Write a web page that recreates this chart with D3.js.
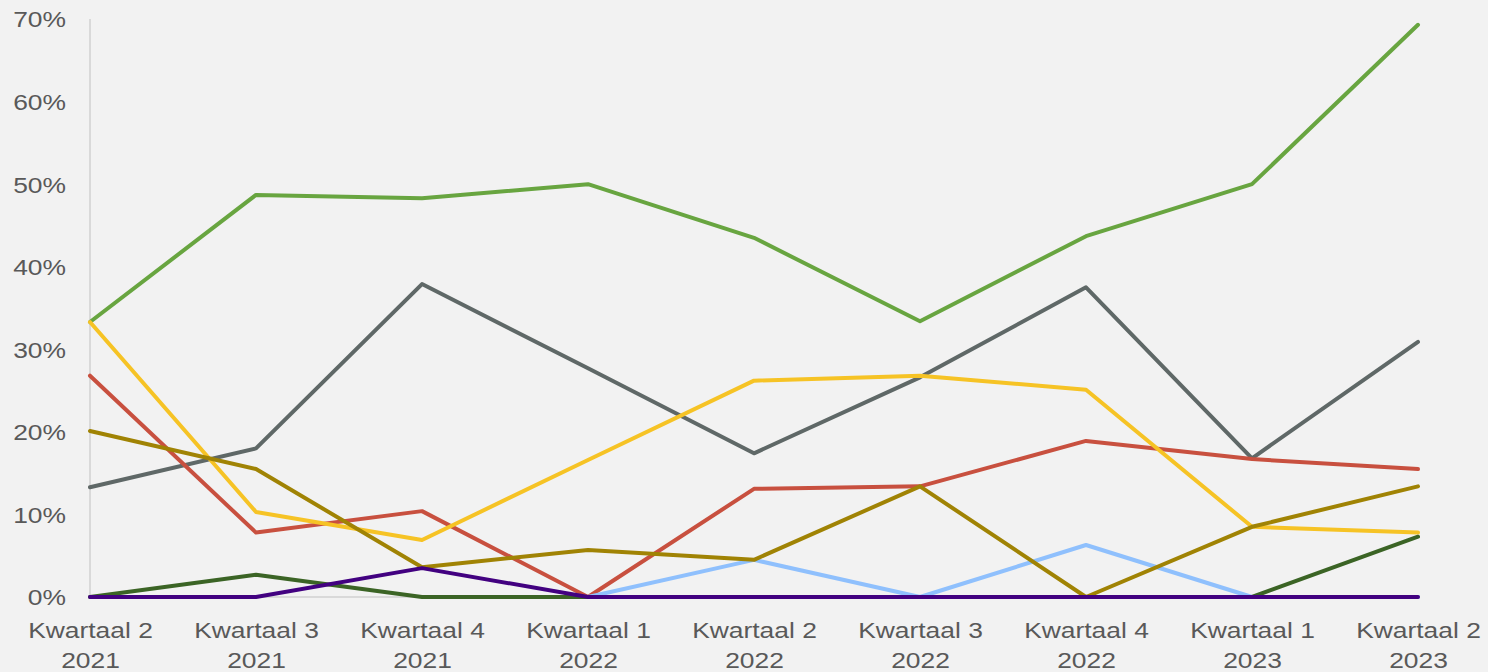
<!DOCTYPE html>
<html>
<head>
  <style>
    html, body { margin: 0; padding: 0; background: #f2f2f2; }
    svg text { font-family: "Liberation Sans", Arial, sans-serif; fill: #595959; }
  </style>
</head>
<body>
  <svg id="chart" width="1488" height="672"></svg>
  <script src="https://d3js.org/d3.v7.min.js"></script>
  <script>
    // Quarters (two-line labels)
    const quarters = ["Kwartaal 2|2021", "Kwartaal 3|2021", "Kwartaal 4|2021", "Kwartaal 1|2022",
      "Kwartaal 2|2022", "Kwartaal 3|2022", "Kwartaal 4|2022", "Kwartaal 1|2023", "Kwartaal 2|2023"];
    const yTicks = [0, 0.1, 0.2, 0.3, 0.4, 0.5, 0.6, 0.7];

    // series values (fractions); null = no value
    const greenVals = [0.333, 0.487, 0.483, 0.500, 0.435, 0.334, 0.437, 0.500, 0.693];
    const grayVals = [0.133, 0.180, 0.379, 0.277, 0.174, 0.266, 0.375, 0.168, 0.309];
    const redVals = [0.268, 0.078, 0.104, 0.000, 0.131, 0.134, 0.189, 0.167, 0.155];
    const yellowVals = [0.333, 0.103, 0.069, 0.166, 0.262, 0.268, 0.251, 0.085, 0.078];
    const lightBlueVals = [null, null, null, 0, 0.045, 0, 0.063, 0, 0];
    const goldVals = [0.201, 0.155, 0.036, 0.057, 0.045, 0.134, 0.000, 0.085, 0.134];
    const darkGreenVals = [0, 0.027, 0, 0, 0, 0, 0, 0, 0.073];
    const purpleVals = [0, 0, 0.035, 0, 0, 0, 0, 0, 0];

    const series = [
      { values: greenVals, color: "#68a540" },
      { values: grayVals, color: "#5f6867" },
      { values: redVals, color: "#c8503f" },
      { values: yellowVals, color: "#f6c325" },
      { values: lightBlueVals, color: "#8fc0fd" },
      { values: goldVals, color: "#a08304" },
      { values: darkGreenVals, color: "#3b6425" },
      { values: purpleVals, color: "#420180" }
    ];

    const svg = d3.select("#chart");

    const x = d3.scalePoint()
      .domain(quarters)
      .range([90, 1418]);

    const y = d3.scaleLinear()
      .domain([0, 0.7])
      .range([597, 19]);

    // vertical axis line
    svg.append("line")
      .attr("x1", 90).attr("x2", 90)
      .attr("y1", y(0.7)).attr("y2", y(0))
      .attr("stroke", "#d9d9d9")
      .attr("stroke-width", 2);

    // horizontal base line
    svg.append("line")
      .attr("x1", 90).attr("x2", 1418)
      .attr("y1", y(0)).attr("y2", y(0))
      .attr("stroke", "#d9d9d9")
      .attr("stroke-width", 2);

    // y axis labels
    const yAxis = d3.axisLeft(y)
      .tickValues(yTicks)
      .tickFormat(d3.format(".0%"))
      .tickSize(0)
      .tickPadding(0);

    const yg = svg.append("g")
      .attr("transform", "translate(66,0)")
      .call(yAxis);
    yg.select(".domain").remove();
    yg.selectAll("text")
      .attr("x", 0)
      .attr("dy", "0.36em")
      .attr("transform", "scale(1.2,1)")
      .style("font-size", "22px")
      .style("font-family", "'Liberation Sans', Arial, sans-serif")
      .attr("fill", "#595959");

    // x axis labels
    const xAxis = d3.axisBottom(x).tickSize(0).tickFormat("");
    const xg = svg.append("g")
      .attr("transform", `translate(0,${y(0)})`)
      .call(xAxis);
    xg.select(".domain").remove();
    xg.selectAll(".tick").each(function(d) {
      const parts = d.split("|");
      const t = d3.select(this).append("text")
        .attr("text-anchor", "middle")
        .attr("transform", "scale(1.2,1)")
        .style("font-size", "22px")
        .attr("fill", "#595959");
      t.append("tspan").attr("x", 0).attr("y", 41).text(parts[0]);
      t.append("tspan").attr("x", 0).attr("y", 71).text(parts[1]);
    });

    // lines
    const line = d3.line()
      .defined(d => d !== null)
      .x((d, i) => x(quarters[i]))
      .y(d => y(d));

    svg.append("g")
      .selectAll("path")
      .data(series)
      .enter()
      .append("path")
      .attr("d", d => line(d.values))
      .attr("fill", "none")
      .attr("stroke", d => d.color)
      .attr("stroke-width", 4)
      .attr("stroke-linecap", "round")
      .attr("stroke-linejoin", "round");
  </script>
</body>
</html>
